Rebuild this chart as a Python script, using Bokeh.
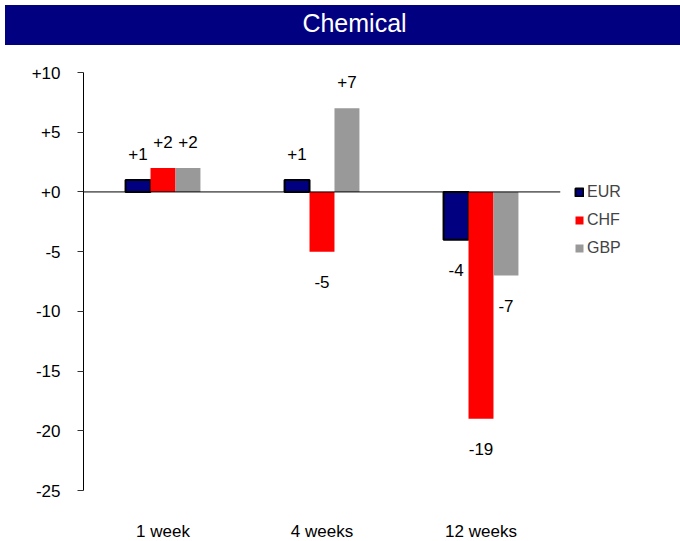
from bokeh.plotting import figure
from bokeh.models import (ColumnDataSource, FactorRange, Range1d, FixedTicker,
                          CustomJSTickFormatter, Span, Legend, LegendItem, Div)
from bokeh.transform import dodge
from bokeh.layouts import column
from bokeh.core.properties import value
from bokeh.embed import file_html
from bokeh.resources import INLINE

# ---- data ----
categories = ["1 week", "4 weeks", "12 weeks"]
series_names = ["EUR", "CHF", "GBP"]
eur = [1, 1, -4]
chf = [2, -5, -19]
gbp = [2, 7, -7]
y_ticks = [-25, -20, -15, -10, -5, 0, 5, 10]
title_text = "Chemical"

FONT = "Liberation Sans"

p = figure(x_range=FactorRange(factors=categories, range_padding=0),
           y_range=Range1d(-25, 10),
           frame_width=477, frame_height=418,
           min_border_left=83, min_border_right=112,
           min_border_top=22, min_border_bottom=43,
           output_backend="svg", toolbar_location=None)
p.outline_line_color = None
p.xgrid.grid_line_color = None
p.ygrid.grid_line_color = None
p.background_fill_color = "white"
p.border_fill_color = "white"

styles = [("#000080", "black", 2), ("#FF0000", None, 0), ("#999999", None, 0)]
offsets = [-0.157, 0.0, 0.157]
bar_w = 0.157
items = []
for name, vals, (fill, line, lw), off in zip(series_names, [eur, chf, gbp], styles, offsets):
    src = ColumnDataSource(dict(
        cat=categories, val=vals,
        label=[f"{v:+d}" for v in vals],
        yoff=[-26 if v >= 0 else 30 for v in vals]))
    if line:
        r = p.vbar(x=dodge("cat", off, range=p.x_range), top="val", bottom=0,
                   width=bar_w, source=src, fill_color=fill,
                   line_color=line, line_width=lw)
    else:
        r = p.vbar(x=dodge("cat", off, range=p.x_range), top="val", bottom=0,
                   width=bar_w, source=src, fill_color=fill, line_color=None)
    p.text(x=dodge("cat", off, range=p.x_range), y="val", text="label",
           y_offset="yoff", text_align="center", text_baseline="middle",
           text_font=value(FONT), text_font_size="17px", text_color="black",
           source=src)
    items.append(LegendItem(label=name, renderers=[r]))

zero = Span(location=0, dimension="width", line_color="black", line_width=1)
p.add_layout(zero)

# y axis
p.yaxis.ticker = FixedTicker(ticks=y_ticks)
p.yaxis.formatter = CustomJSTickFormatter(code="return (tick >= 0 ? '+' : '') + tick.toFixed(0);")
p.yaxis.axis_line_color = "black"
p.yaxis.major_tick_out = 6
p.yaxis.major_tick_in = 0
p.yaxis.minor_tick_line_color = None
p.yaxis.major_tick_line_color = "#333333"
p.yaxis.major_label_text_font = FONT
p.yaxis.major_label_text_font_size = "17px"
p.yaxis.major_label_text_color = "black"
p.yaxis.major_label_standoff = 17

# x axis
p.xaxis.axis_line_color = None
p.xaxis.major_tick_line_color = None
p.xaxis.major_tick_out = 0
p.xaxis.major_label_text_font = FONT
p.xaxis.major_label_text_font_size = "17px"
p.xaxis.major_label_text_color = "black"
p.xaxis.major_label_standoff = 31

legend = Legend(items=items, location=(14, 232), orientation="vertical",
                glyph_width=10, glyph_height=10, label_height=20, spacing=8,
                padding=0, margin=0, label_standoff=3,
                label_text_font=FONT, label_text_font_size="16px",
                border_line_color=None, background_fill_alpha=0)
p.add_layout(legend, "right")

title = Div(text=(f'<div style="width:675px;height:40px;background:#000080;color:white;'
                  f'font-family:\'Liberation Sans\',Arial,sans-serif;font-size:25px;'
                  f'line-height:37px;text-align:center;padding-left:24px;box-sizing:border-box;">'
                  f'{title_text}</div>'),
            width=675, height=40)

layout = column(title, p, spacing=0)
open("out.html", "w").write(file_html(layout, INLINE))
